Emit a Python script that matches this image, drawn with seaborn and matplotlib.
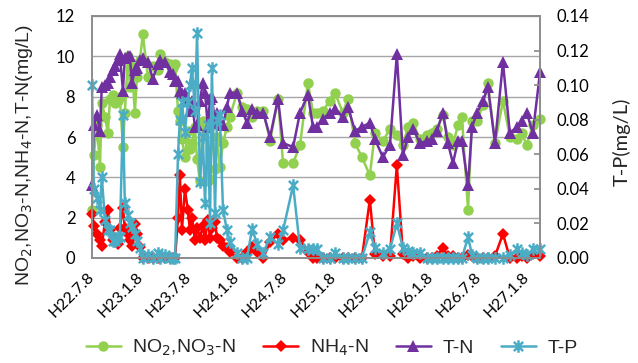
import matplotlib
matplotlib.use('Agg')
import matplotlib.pyplot as plt
import seaborn as sns
import pandas as pd
from matplotlib.path import Path
from matplotlib.lines import Line2D

# ---------------- data ----------------
dates = [
    "2010-07-08", "2010-07-15", "2010-07-27", "2010-08-07", "2010-08-14", "2010-08-26",
    "2010-09-06", "2010-09-14", "2010-09-25", "2010-10-03", "2010-10-14", "2010-10-21",
    "2010-11-02", "2010-11-09", "2010-11-21", "2010-11-28", "2010-12-06", "2010-12-17",
    "2010-12-25", "2011-01-05", "2011-01-16", "2011-02-04", "2011-02-23", "2011-03-14",
    "2011-03-22", "2011-04-10", "2011-04-29", "2011-05-10", "2011-05-18", "2011-05-29",
    "2011-06-05", "2011-06-13", "2011-06-24", "2011-07-05", "2011-07-13", "2011-07-21",
    "2011-08-01", "2011-08-09", "2011-08-20", "2011-08-31", "2011-09-08", "2011-09-19",
    "2011-09-27", "2011-10-04", "2011-10-16", "2011-10-23", "2011-11-03", "2011-11-15",
    "2011-11-30", "2011-12-11", "2012-01-07", "2012-01-26", "2012-02-14", "2012-03-04",
    "2012-03-23", "2012-04-15", "2012-05-11", "2012-06-10", "2012-06-29", "2012-08-06",
    "2012-09-01", "2012-10-01", "2012-10-20", "2012-11-04", "2012-11-27", "2012-12-23",
    "2013-01-11", "2013-02-10", "2013-03-01", "2013-03-28", "2013-04-23", "2013-05-23",
    "2013-06-11", "2013-07-11", "2013-08-07", "2013-09-02", "2013-09-25", "2013-10-14",
    "2013-11-02", "2013-11-28", "2013-12-25", "2014-01-12", "2014-01-31", "2014-02-23",
    "2014-03-14", "2014-04-02", "2014-04-21", "2014-05-06", "2014-05-29", "2014-06-13",
    "2014-07-02", "2014-07-25", "2014-08-12", "2014-09-08", "2014-10-08", "2014-11-03",
    "2014-11-30", "2014-12-18", "2015-01-06", "2015-01-29", "2015-02-25",
]

no2_no3_n = [
    2.4, 5.1, 6.6, 4.5, 7.7, 7.0, 6.2, 7.9, 8.1, 7.7, 7.8, 8.0,
    5.5, 7.2, 10.0, 8.5, 9.5, 7.2, 9.0, 9.8, 11.1, 9.0, 9.5, 9.3,
    10.1, 9.7, 9.6, 9.4, 9.6, 7.3, 6.8, 5.9, 5.0, 6.3, 5.4, 5.7,
    6.5, 4.9, 3.8, 6.8, 6.5, 3.8, 3.9, 6.6, 4.4, 6.0, 4.5, 5.7,
    6.5, 7.0, 8.2, 7.5, 7.4, 7.0, 7.3, 7.3, 5.8, 7.9, 4.7, 4.7,
    5.6, 8.7, 7.2, 7.2, 7.3, 7.8, 8.2, 7.2, 7.9, 5.7, 5.0, 4.1,
    6.2, 5.8, 6.4, 6.1, 5.6, 6.5, 6.7, 5.9, 6.1, 6.2, 6.4, 7.1,
    6.0, 5.6, 6.6, 7.0, 2.4, 6.8, 6.8, 7.6, 8.7, 5.7, 7.8, 6.0,
    5.9, 6.2, 5.6, 6.6, 6.9,
]

nh4_n = [
    2.2, 1.6, 1.2, 0.9, 0.6, 1.8, 2.4, 1.4, 0.9, 1.0, 0.7, 1.5,
    2.5, 1.5, 1.2, 0.9, 0.6, 1.7, 1.2, 0.55, 0.0, 0.0, 0.0, 0.0,
    0.0, 0.0, 0.0, 0.0, 0.0, 2.0, 4.1, 1.4, 3.4, 2.4, 1.4, 2.0,
    0.9, 1.5, 1.0, 1.6, 0.9, 1.9, 1.0, 1.5, 1.8, 1.0, 0.9, 0.6,
    0.5, 0.3, 0.0, 0.0, 0.3, 0.55, 0.3, 0.0, 0.8, 1.2, 0.9, 1.0,
    0.9, 0.3, 0.0, 0.0, 0.0, 0.0, 0.0, 0.0, 0.0, 0.0, 0.0, 2.9,
    0.2, 0.1, 0.1, 4.6, 0.2, 0.0, 0.1, 0.0, 0.0, 0.0, 0.1, 0.5,
    0.1, 0.1, 0.0, 0.0, 0.15, 0.1, 0.0, 0.0, 0.0, 0.1, 1.2, 0.0,
    0.0, 0.1, 0.0, 0.2, 0.1,
]

t_n = [
    3.6, 6.6, 7.1, 6.3, 8.5, 8.6, 8.7, 9.0, 9.3, 9.5, 9.8, 10.1,
    8.3, 9.9, 10.0, 10.0, 8.7, 9.3, 9.4, 9.8, 9.9, 9.7, 8.9, 9.6,
    9.8, 9.7, 9.2, 9.1, 8.8, 8.8, 8.3, 8.2, 8.2, 7.8, 7.3, 7.8,
    6.5, 6.6, 7.8, 8.7, 8.2, 6.5, 7.9, 8.0, 6.7, 7.2, 6.7, 6.6,
    7.5, 8.2, 8.2, 7.3, 6.7, 7.4, 7.2, 7.2, 6.0, 7.9, 5.7, 5.5,
    7.2, 8.1, 6.5, 6.5, 6.9, 7.2, 7.4, 7.0, 7.5, 6.3, 6.5, 6.7,
    5.9, 5.0, 5.6, 10.1, 5.1, 6.0, 6.4, 5.7, 5.8, 5.9, 6.3, 7.2,
    5.7, 4.7, 5.8, 5.8, 3.6, 6.5, 7.2, 7.8, 8.5, 5.7, 9.7, 6.2,
    6.5, 6.8, 7.2, 6.2, 9.2,
]

t_p = [
    0.100, 0.040, 0.035, 0.028, 0.047, 0.022, 0.016, 0.016, 0.010, 0.010, 0.012, 0.012,
    0.083, 0.032, 0.025, 0.020, 0.018, 0.014, 0.010, 0.006, 0.000, 0.002, 0.000, 0.003,
    0.000, 0.002, 0.000, 0.000, 0.000, 0.060, 0.080, 0.090, 0.073, 0.090, 0.100, 0.110,
    0.085, 0.130, 0.044, 0.070, 0.032, 0.077, 0.020, 0.110, 0.026, 0.080, 0.083, 0.028,
    0.016, 0.009, 0.003, 0.000, 0.000, 0.017, 0.008, 0.003, 0.012, 0.008, 0.016, 0.042,
    0.006, 0.005, 0.005, 0.005, 0.000, 0.000, 0.003, 0.000, 0.000, 0.000, 0.000, 0.015,
    0.006, 0.003, 0.005, 0.020, 0.006, 0.004, 0.003, 0.003, 0.000, 0.000, 0.000, 0.000,
    0.000, 0.000, 0.000, 0.000, 0.012, 0.002, 0.000, 0.000, 0.000, 0.000, 0.000, 0.002,
    0.005, 0.003, 0.002, 0.005, 0.005,
]

tick_dates = ["2010-07-08", "2011-01-08", "2011-07-08", "2012-01-08", "2012-07-08",
              "2013-01-08", "2013-07-08", "2014-01-08", "2014-07-08", "2015-01-08"]
tick_labels = ["H22.7.8", "H23.1.8", "H23.7.8", "H24.1.8", "H24.7.8",
               "H25.1.8", "H25.7.8", "H26.1.8", "H26.7.8", "H27.1.8"]

left_ticks = [0, 2, 4, 6, 8, 10, 12]
right_ticks = [0.00, 0.02, 0.04, 0.06, 0.08, 0.10, 0.12, 0.14]

series_names = ["NO$_2$,NO$_3$-N", "NH$_4$-N", "T-N", "T-P"]
colors = ["#92d050", "#ff0000", "#7030a0", "#4bacc6"]

# ---------------- plotting ----------------
sns.set_theme(style="white")
plt.rcParams["font.family"] = ["Lato", "DejaVu Sans"]

df = pd.DataFrame({
    "date": pd.to_datetime(dates),
    "no2_no3_n": no2_no3_n,
    "nh4_n": nh4_n,
    "t_n": t_n,
    "t_p": t_p,
})

fig = plt.figure(figsize=(6.38, 3.63), dpi=100)
ax = fig.add_axes([92 / 638, 1 - 258 / 363, 448 / 638, 242 / 363])

star = Path([(-1, -1), (1, 1), (-1, 1), (1, -1), (0, -1.35), (0, 1.35)],
            [Path.MOVETO, Path.LINETO, Path.MOVETO, Path.LINETO, Path.MOVETO, Path.LINETO])

styles = [
    dict(marker="o", markersize=7.5, markeredgewidth=0),
    dict(marker="D", markersize=6.5, markeredgewidth=0),
    dict(marker="^", markersize=8.5, markeredgewidth=0),
    dict(marker=star, markersize=9, markeredgewidth=1.8),
]

cols = ["no2_no3_n", "nh4_n", "t_n"]
for col, c, st in zip(cols, colors[:3], styles[:3]):
    sns.lineplot(data=df, x="date", y=col, ax=ax, color=c, linewidth=1.8,
                 markeredgecolor=c, markerfacecolor=c, clip_on=False,
                 estimator=None, sort=False, legend=False, **st)

ax2 = ax.twinx()
sns.lineplot(data=df, x="date", y="t_p", ax=ax2, color=colors[3], linewidth=1.8,
             markeredgecolor=colors[3], markerfacecolor=colors[3], clip_on=False,
             estimator=None, sort=False, legend=False, **styles[3])

xmin, xmax = df["date"].min(), df["date"].max()
ax.set_xlim(xmin, xmax)
ax.set_ylim(0, 12)
ax2.set_ylim(0, 0.14)
ax.set_yticks(left_ticks)
ax2.set_yticks(right_ticks)
ax2.set_yticklabels([f"{v:.2f}" for v in right_ticks])
ax.set_xticks(pd.to_datetime(tick_dates))
ax.set_xticklabels(tick_labels, rotation=45, ha="right", va="center",
                   rotation_mode="anchor")

for a in (ax, ax2):
    a.set_xlabel("")
    a.set_ylabel("")
    for s in a.spines.values():
        s.set_color("#8c8c8c")
        s.set_linewidth(1.2)

ax.grid(axis="y", color="#a6a6a6", linewidth=1.0)
ax.set_axisbelow(True)
ax.tick_params(axis="y", length=0, pad=12, labelsize=12, colors="black")
ax.tick_params(axis="x", direction="in", length=4, color="#8c8c8c", pad=12,
               labelsize=11.5, labelcolor="black")
ax2.tick_params(axis="y", direction="in", length=4, color="#8c8c8c", pad=12,
                labelsize=12, labelcolor="black")

fig.text(25 / 638, 1 - 155 / 363, "NO$_2$,NO$_3$-N,NH$_4$-N,T-N(mg/L)",
         rotation=90, ha="center", va="center", fontsize=14,
         family=["Liberation Sans", "DejaVu Sans"])
fig.text(622 / 638, 1 - 142 / 363, "T-P(mg/L)", rotation=90, ha="center",
         va="center", fontsize=14.5)

handles = [Line2D([0], [0], color=c, linewidth=1.8, markeredgecolor=c,
                  markerfacecolor=c, **st) for c, st in zip(colors, styles)]
fig.legend(handles, series_names, loc="center", bbox_to_anchor=(0.52, 1 - 348 / 363),
           ncol=4, frameon=False, handlelength=1.8, handletextpad=0.6,
           columnspacing=1.4, prop={"family": ["Liberation Sans", "DejaVu Sans"],
                                     "size": 14})

fig.savefig("out.png", dpi=100)
